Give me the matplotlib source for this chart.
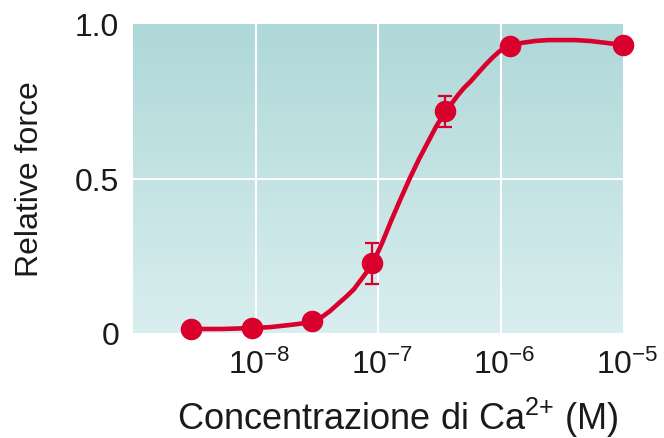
import numpy as np
import matplotlib
matplotlib.use("Agg")
import matplotlib.pyplot as plt
import matplotlib.transforms as mtransforms
from matplotlib.colors import LinearSegmentedColormap

plt.rcParams['font.family'] = ['Liberation Sans', 'DejaVu Sans']

# measured points (Ca2+ concentration in M, relative force)
ca_conc = [3.0e-9, 9.3e-9, 2.9e-8, 9.0e-8, 3.5e-7, 1.2e-6, 1.0e-5]
rel_force = [0.013, 0.016, 0.039, 0.228, 0.717, 0.929, 0.932]

# points with error bars
err_conc = [9.0e-8, 3.5e-7]
err_force = [0.225, 0.717]
err_size = [0.066, 0.050]

# fitted curve (log10 of concentration, force)
curve_log_conc = [-8.518, -8.273, -8.029, -7.882, -7.718, -7.596, -7.531,
                  -7.457, -7.392, -7.327, -7.253, -7.196, -7.147, -7.098,
                  -7.041, -6.967, -6.894, -6.820, -6.739, -6.665, -6.592,
                  -6.527, -6.453, -6.396, -6.347, -6.298, -6.249, -6.184,
                  -6.118, -6.061, -6.004, -5.922, -5.824, -5.718, -5.612,
                  -5.514, -5.392, -5.269, -5.139, -5.0]
curve_force = [0.013, 0.013, 0.016, 0.019, 0.026, 0.032, 0.039,
               0.052, 0.071, 0.094, 0.120, 0.142, 0.168, 0.194,
               0.227, 0.291, 0.362, 0.430, 0.502, 0.563, 0.618,
               0.667, 0.715, 0.744, 0.770, 0.793, 0.812, 0.841,
               0.870, 0.893, 0.913, 0.929, 0.939, 0.945, 0.948,
               0.948, 0.948, 0.945, 0.939, 0.932]

x_ticks = [1e-8, 1e-7, 1e-6, 1e-5]
y_ticks = [0, 0.5, 1.0]
y_tick_labels = ['0', '0.5', '1.0']

red = '#d9002e'

fig = plt.figure(figsize=(6.64, 4.39), dpi=100)
ax = fig.add_axes([133 / 664, 105 / 439, 490 / 664, 309 / 439])

# background gradient, darker teal at top
cmap = LinearSegmentedColormap.from_list('bg', ['#d9eeee', '#afd8d9'])
grad = np.linspace(0, 1, 256).reshape(-1, 1)
ax.imshow(grad, cmap=cmap, origin='lower', extent=[0, 1, 0, 1],
          transform=ax.transAxes, aspect='auto', zorder=0)

ax.set_xscale('log')
ax.set_xlim(1e-9, 1e-5)
ax.set_ylim(0, 1)

for xv in x_ticks[:-1]:
    ax.axvline(xv, color='white', lw=1.5, zorder=1)
ax.axhline(0.5, color='white', lw=1.5, zorder=1)

ax.plot(10 ** np.array(curve_log_conc), curve_force, color=red, lw=3.3,
        solid_capstyle='round', solid_joinstyle='round', zorder=3,
        clip_on=False)
ax.errorbar(err_conc, err_force, yerr=err_size, fmt='none', ecolor=red,
            elinewidth=1.6, capsize=5, capthick=1.6, zorder=3)
ax.plot(ca_conc, rel_force, 'o', color=red, ms=14.5, mec=red, zorder=4,
        clip_on=False)

for s in ax.spines.values():
    s.set_visible(False)

ax.set_xticks(x_ticks)
ax.xaxis.set_minor_locator(matplotlib.ticker.NullLocator())
ax.set_yticks(y_ticks)
ax.set_yticklabels(y_tick_labels)
ax.tick_params(axis='both', length=0, labelsize=23, colors='#1a1a1a')
ax.tick_params(axis='x', pad=11.5)
ax.tick_params(axis='y', pad=10)

# labels in the reference sit a little right of the grid lines
shift = mtransforms.ScaledTranslation(4 / 100, 0, fig.dpi_scale_trans)
for lab in ax.get_xticklabels():
    lab.set_transform(lab.get_transform() + shift)

ax.set_xlabel(r'Concentrazione di Ca$^{\mathregular{2{+}}}$ (M)', fontsize=26,
              color='#1a1a1a')
ax.xaxis.set_label_coords(0.54, -0.2)
ax.set_ylabel('Relative force', fontsize=23, color='#1a1a1a')
ax.yaxis.set_label_coords(-0.18, 0.5)

fig.savefig('out.png', dpi=100)
